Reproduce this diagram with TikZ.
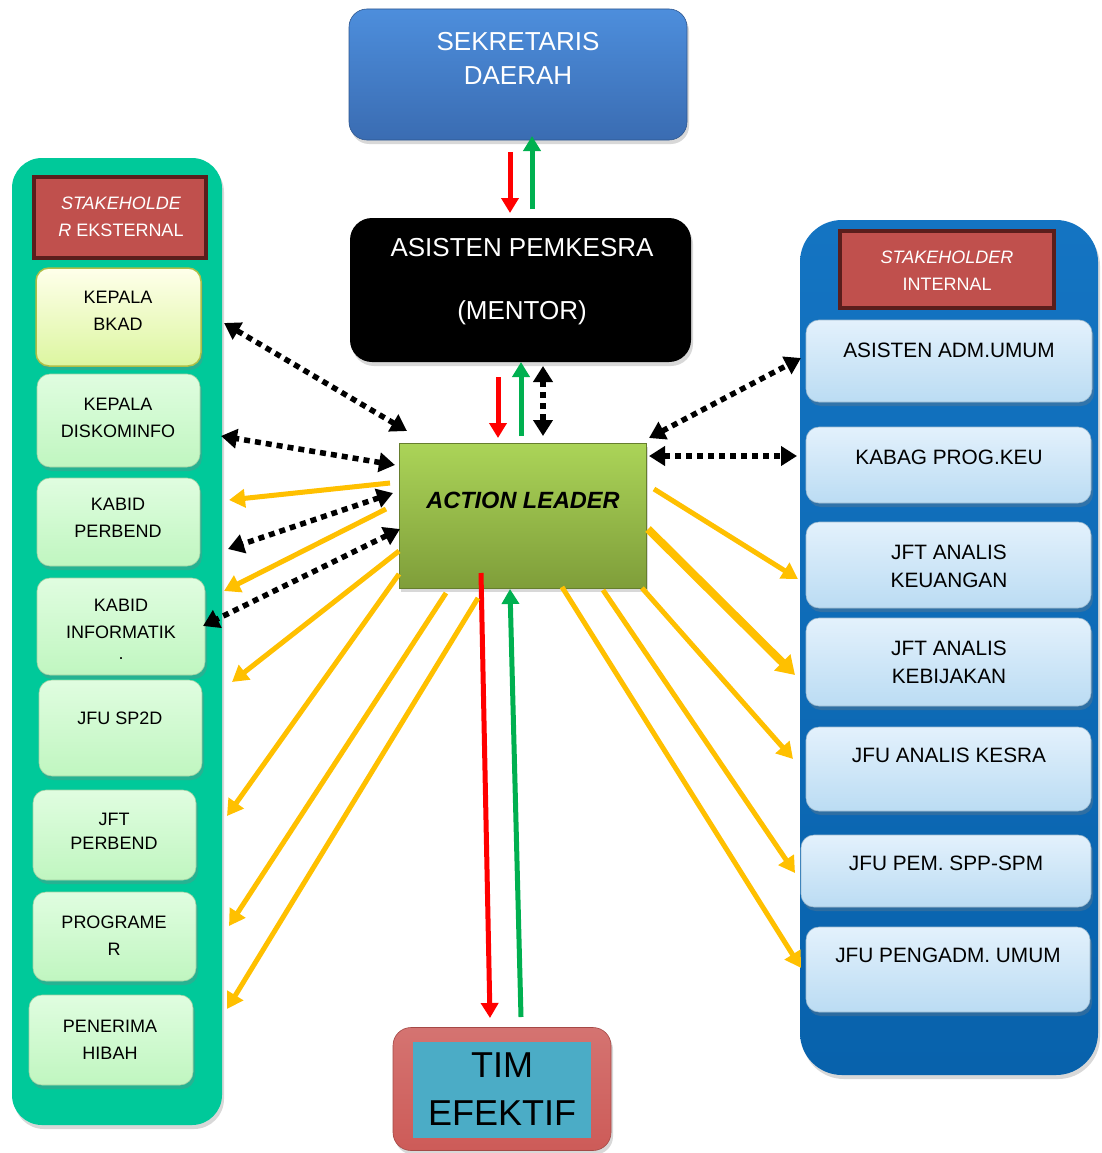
\documentclass[tikz,border=0pt]{standalone}
\usepackage{fontspec}
\setmainfont{Liberation Sans}
\usetikzlibrary{arrows.meta,shadows}
\definecolor{lcolc}{HTML}{00C99A}
\definecolor{rcoltop}{HTML}{1474C2}
\definecolor{rcolbot}{HTML}{0862AC}
\definecolor{hdrfill}{HTML}{C0504D}
\definecolor{hdrdraw}{HTML}{5A1E1C}
\definecolor{lgtop}{HTML}{E0FDE0}
\definecolor{lgbot}{HTML}{C0F6C0}
\definecolor{lbtop}{HTML}{E3F1FC}
\definecolor{lbbot}{HTML}{BBDCF3}
\definecolor{oran}{HTML}{FFC000}
\definecolor{grn}{HTML}{00B050}
\definecolor{altop}{HTML}{ABD458}
\definecolor{albot}{HTML}{7F9E3A}
\definecolor{sktop}{HTML}{4D8EDC}
\definecolor{skbot}{HTML}{3A6CB2}
\definecolor{timred}{HTML}{CD5B58}
\definecolor{timcyan}{HTML}{4BACC6}
\begin{document}
\begin{tikzpicture}[x=1pt,y=-1pt,
  every node/.style={inner sep=0pt,outer sep=0pt},
  shad/.style={drop shadow={opacity=0.3,shadow xshift=2pt,shadow yshift=-4pt}},
  colbox/.style={rectangle,shad},
  hdr/.style={rectangle,fill=hdrfill,draw=hdrdraw,line width=3.5pt},
  hdrtxt/.style={text=white,align=center,font=\fontsize{18}{27}\selectfont},
  lbox/.style={rectangle,rounded corners=13pt,top color=lgtop,bottom color=lgbot,draw=lgbot!85!black,line width=0.6pt,shad},
  rbox/.style={rectangle,rounded corners=13pt,top color=lbtop,bottom color=lbbot,draw=lbbot!85!black,line width=0.6pt,shad},
  ltxt/.style={align=center,font=\fontsize{18}{27}\selectfont},
  rtxt/.style={align=center,font=\fontsize{20.8}{28}\selectfont},
  redarr/.style={draw=red,line width=5pt,-{Triangle[width=17pt,length=15pt]}},
  grnarr/.style={draw=grn,line width=5pt,-{Triangle[width=17pt,length=15pt]}},
  orarr/.style={draw=oran,line width=5pt,-{Triangle[width=18pt,length=16pt]}},
  dotarr/.style={draw=black,line width=5.5pt,dash pattern=on 6pt off 5pt,{Triangle[width=19pt,length=16pt]}-{Triangle[width=19pt,length=16pt]}}
]
\useasboundingbox[fill=white] (0,0) rectangle (1102,1153);

% ---------- left column ----------
\node[colbox,rounded corners=30pt,fill=lcolc,minimum width=210pt,minimum height=967pt] (lcol) at (117,641.5) {};
\node[hdr,minimum width=172pt,minimum height=81pt] (lhdr) at (120,217.5) {};
\node[hdrtxt] (lhdr-t) at (121,216.5) {\textit{STAKEHOLDE}\\\textit{R} EKSTERNAL};

\node[lbox,top color=yellow!8!white,bottom color={rgb,255:red,220;green,246;blue,160},draw={rgb,255:red,175;green,190;blue,70},line width=1.5pt,minimum width=165pt,minimum height=98pt] (bkad) at (118.5,317) {};
\node[ltxt] (bkad-t) at (118,311) {KEPALA\\BKAD};
\node[lbox,minimum width=163pt,minimum height=93pt] (disk) at (118.5,420.5) {};
\node[ltxt] (disk-t) at (118,418) {KEPALA\\DISKOMINFO};
\node[lbox,minimum width=163pt,minimum height=88pt] (kperb) at (118.5,522) {};
\node[ltxt] (kperb-t) at (118,518) {KABID\\PERBEND};
\node[lbox,minimum width=168pt,minimum height=97pt] (kinf) at (121,626.5) {};
\node[ltxt,anchor=north] (kinf-t) at (121,599) {KABID\\INFORMATIK\\[-6pt].};
\node[lbox,minimum width=163pt,minimum height=96pt] (sp2d) at (120.5,728) {};
\node[ltxt] (sp2d-t) at (120,718) {JFU SP2D};
\node[lbox,minimum width=163pt,minimum height=90pt] (jperb) at (114.5,835) {};
\node[ltxt,font=\fontsize{18}{24}\selectfont] (jperb-t) at (114,831.5) {JFT\\PERBEND};
\node[lbox,minimum width=163pt,minimum height=89pt] (prog) at (114.5,936.5) {};
\node[ltxt] (prog-t) at (114,936) {PROGRAME\\R};
\node[lbox,minimum width=164pt,minimum height=90pt] (hibah) at (111,1040) {};
\node[ltxt] (hibah-t) at (110,1039.5) {PENERIMA\\HIBAH};

% ---------- right column ----------
\node[colbox,rounded corners=42pt,top color=rcoltop,bottom color=rcolbot,minimum width=298pt,minimum height=855pt] (rcol) at (949,647.5) {};
\node[hdr,minimum width=214pt,minimum height=77pt] (rhdr) at (947,269.5) {};
\node[hdrtxt] (rhdr-t) at (947,271) {\textit{STAKEHOLDER}\\INTERNAL};

\node[rbox,minimum width=286pt,minimum height=82pt] (adm) at (949,361) {};
\node[rtxt] (adm-t) at (949,350) {ASISTEN ADM.UMUM};
\node[rbox,minimum width=285pt,minimum height=76pt] (kabag) at (948.5,465) {};
\node[rtxt] (kabag-t) at (949,457) {KABAG PROG.KEU};
\node[rbox,minimum width=285pt,minimum height=86pt] (keu) at (948.5,565) {};
\node[rtxt] (keu-t) at (949,566) {JFT ANALIS\\KEUANGAN};
\node[rbox,minimum width=285pt,minimum height=88pt] (kebij) at (948.5,662) {};
\node[rtxt] (kebij-t) at (949,662.5) {JFT ANALIS\\KEBIJAKAN};
\node[rbox,minimum width=285pt,minimum height=84pt] (kesra) at (948.5,769) {};
\node[rtxt] (kesra-t) at (949,755) {JFU ANALIS KESRA};
\node[rbox,minimum width=290pt,minimum height=72pt] (spp) at (946,871) {};
\node[rtxt] (spp-t) at (946,863) {JFU PEM. SPP-SPM};
\node[rbox,minimum width=284pt,minimum height=85pt] (pengadm) at (948,969.5) {};
\node[rtxt] (pengadm-t) at (948,955) {JFU PENGADM. UMUM};

% ---------- centre ----------
\node[rectangle,rounded corners=18pt,top color=sktop,bottom color=skbot,draw=skbot!80!black,line width=0.6pt,shad,minimum width=338pt,minimum height=131pt] (sekda) at (518,74.5) {};
\node[align=center,text=white,font=\fontsize{26}{34}\selectfont] (sekda-t) at (518,58) {SEKRETARIS\\DAERAH};

\node[rectangle,rounded corners=22pt,fill=black,shad,minimum width=341pt,minimum height=144pt] (mentor) at (520.5,290) {};
\node[align=center,text=white,font=\fontsize{26}{32}\selectfont] (mentor-t) at (522,281.5) {ASISTEN PEMKESRA\\[31pt](MENTOR)};

\node[rectangle,top color=altop,bottom color=albot,draw=albot!80!black,line width=1pt,shad,minimum width=247pt,minimum height=145pt] (al) at (522.5,515.5) {};
\node[font=\fontsize{23.5}{28}\selectfont\bfseries\itshape] (al-t) at (523,500) {ACTION LEADER};

\node[rectangle,rounded corners=18pt,top color=timred!85!white,bottom color=timred,draw=timred!80!black,line width=0.6pt,shad,minimum width=218pt,minimum height=123pt] (tim) at (502,1089) {};
\node[rectangle,fill=timcyan,minimum width=178pt,minimum height=96pt] (timin) at (502,1090) {};
\node[align=center,font=\fontsize{36}{48}\selectfont] (tim-t) at (502,1089) {TIM\\EFEKTIF};

% ---------- connector end points ----------
\coordinate (a1) at (510,152);  \coordinate (a2) at (510,213);
\coordinate (b1) at (532,209);  \coordinate (b2) at (532,136);
\coordinate (c1) at (498,377);  \coordinate (c2) at (498,438);
\coordinate (d1) at (521,436);  \coordinate (d2) at (521,362);
\coordinate (e1) at (543,366);  \coordinate (e2) at (543,436);
\coordinate (f1) at (481,573);  \coordinate (f2) at (490,1018);
\coordinate (g1) at (521,1017); \coordinate (g2) at (510,589);

\coordinate (p1) at (407,431); \coordinate (q1) at (224,323);
\coordinate (p2) at (395,465); \coordinate (q2) at (221,436);
\coordinate (p3) at (393,493); \coordinate (q3) at (228,549);
\coordinate (p4) at (400,529); \coordinate (q4) at (203,626);
\coordinate (p5) at (649,438); \coordinate (q5) at (801,358);
\coordinate (p6) at (649,456); \coordinate (q6) at (797,456);

\coordinate (o1) at (390,483); \coordinate (t1) at (229,500);
\coordinate (o2) at (386,509); \coordinate (t2) at (224,591);
\coordinate (o3) at (399,551); \coordinate (t3) at (232,682);
\coordinate (o4) at (399,574); \coordinate (t4) at (227,816);
\coordinate (o5) at (446,593); \coordinate (t5) at (229,926);
\coordinate (o6) at (478,598); \coordinate (t6) at (227,1009);
\coordinate (o7) at (654,489); \coordinate (t7) at (798,579);
\coordinate (o8) at (648,529); \coordinate (t8) at (795,675);
\coordinate (o9) at (642,588); \coordinate (t9) at (793,759);
\coordinate (o10) at (603,590); \coordinate (t10) at (795,873);
\coordinate (o11) at (562,587); \coordinate (t11) at (801,968);

% ---------- connectors ----------
\draw[redarr] (a1) -- (a2);
\draw[grnarr] (b1) -- (b2);
\draw[redarr] (c1) -- (c2);
\draw[grnarr] (d1) -- (d2);
\draw[dotarr] (e1) -- (e2);
\draw[redarr] (f1) -- (f2);
\draw[grnarr] (g1) -- (g2);

\draw[dotarr] (p1) -- (q1);
\draw[dotarr] (p2) -- (q2);
\draw[dotarr] (p3) -- (q3);
\draw[dotarr] (p4) -- (q4);
\draw[dotarr] (p5) -- (q5);
\draw[dotarr] (p6) -- (q6);

\draw[orarr] (o1) -- (t1);
\draw[orarr] (o2) -- (t2);
\draw[orarr] (o3) -- (t3);
\draw[orarr] (o4) -- (t4);
\draw[orarr] (o5) -- (t5);
\draw[orarr] (o6) -- (t6);
\draw[orarr] (o7) -- (t7);
\draw[orarr,line width=8pt,-{Triangle[width=22pt,length=18pt]}] (o8) -- (t8);
\draw[orarr] (o9) -- (t9);
\draw[orarr] (o10) -- (t10);
\draw[orarr] (o11) -- (t11);
\end{tikzpicture}
\end{document}
